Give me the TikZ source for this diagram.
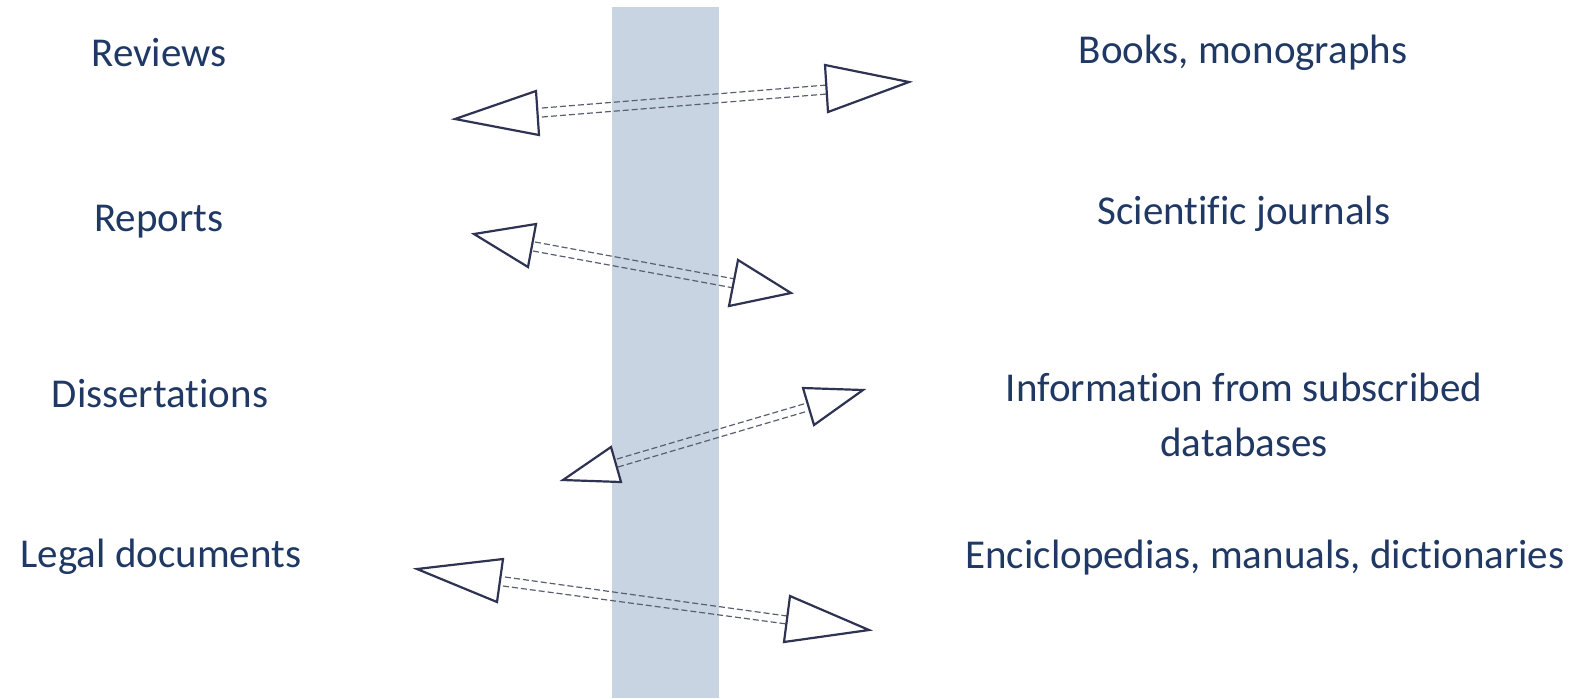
\documentclass[tikz,border=0pt]{standalone}
\usepackage{fontspec}
\setmainfont[Ligatures=NoCommon, RawFeature={-liga;-clig;-dlig;-calt}]{Carlito}
\usetikzlibrary{positioning}
\definecolor{navy}{HTML}{1F3864}
\definecolor{bandblue}{HTML}{C8D4E2}
\definecolor{headline}{HTML}{2E3352}
\definecolor{shaftgray}{HTML}{5A5E6E}
\tikzset{
	srctext/.style={text=navy, font=\fontsize{20.5}{27.5}\selectfont, inner sep=0pt, anchor=base, align=center},
	headtri/.style={draw=headline, line width=1.1pt, fill=white, line join=miter},
	shaft/.style={draw=shaftgray, line width=0.6pt, dash pattern=on 3pt off 1.5pt}
}
\newcommand{\twinarrow}[2]{%
	\draw[shaft] (#1-st) -- (#2-st);
	\draw[shaft] (#1-sb) -- (#2-sb);
	\draw[headtri] (#1-tip) -- (#1-bt) -- (#1-bb) -- cycle;
	\draw[headtri] (#2-tip) -- (#2-bt) -- (#2-bb) -- cycle;
}

\begin{document}
\begin{tikzpicture}[x=0.5pt, y=-0.5pt]
	\useasboundingbox (0,0) rectangle (1573,698);
	\fill[bandblue] (612,7) rectangle (719,698);

	\node[srctext] (reviews) at (159,66) {Reviews};
	\node[srctext] (reports) at (159,231) {Reports};
	\node[srctext] (dissertations) at (160,407) {Dissertations};
	\node[srctext] (legal) at (161,567) {Legal documents};
	\node[srctext] (books) at (1243,63) {Books, monographs};
	\node[srctext] (journals) at (1244,224) {Scientific journals};
	\node[srctext] (databases) at (1244,456) {Information from subscribed\\databases};
	\node[srctext] (encyclopedias) at (1265,568) {Enciclopedias, manuals, dictionaries};

	\coordinate (ra-tip) at (455,119); \coordinate (ra-bt) at (536,91); \coordinate (ra-bb) at (539,135);
	\coordinate (ra-st) at (542,108); \coordinate (ra-sb) at (542,117);
	\coordinate (rb-tip) at (909,82); \coordinate (rb-bt) at (825,65); \coordinate (rb-bb) at (828,112);
	\coordinate (rb-st) at (827,85); \coordinate (rb-sb) at (827,94);

	\coordinate (pa-tip) at (474,234); \coordinate (pa-bt) at (536,224); \coordinate (pa-bb) at (528,267);
	\coordinate (pa-st) at (535,242); \coordinate (pa-sb) at (533,251);
	\coordinate (pb-tip) at (791,293); \coordinate (pb-bt) at (738,260); \coordinate (pb-bb) at (729,306);
	\coordinate (pb-st) at (735,279); \coordinate (pb-sb) at (734,288);

	\coordinate (da-tip) at (563,480); \coordinate (da-bt) at (611,447); \coordinate (da-bb) at (621,482);
	\coordinate (da-st) at (617,459); \coordinate (da-sb) at (618,467);
	\coordinate (db-tip) at (863,390); \coordinate (db-bt) at (803,388); \coordinate (db-bb) at (814,425);
	\coordinate (db-st) at (807,403); \coordinate (db-sb) at (808,411);

	\coordinate (la-tip) at (417,569); \coordinate (la-bt) at (503,559); \coordinate (la-bb) at (497,602);
	\coordinate (la-st) at (505,577); \coordinate (la-sb) at (503,586);
	\coordinate (lb-tip) at (869,630); \coordinate (lb-bt) at (790,596); \coordinate (lb-bb) at (784,642);
	\coordinate (lb-st) at (787,616); \coordinate (lb-sb) at (787,624);

	\twinarrow{ra}{rb}
	\twinarrow{pa}{pb}
	\twinarrow{da}{db}
	\twinarrow{la}{lb}
\end{tikzpicture}
\end{document}
